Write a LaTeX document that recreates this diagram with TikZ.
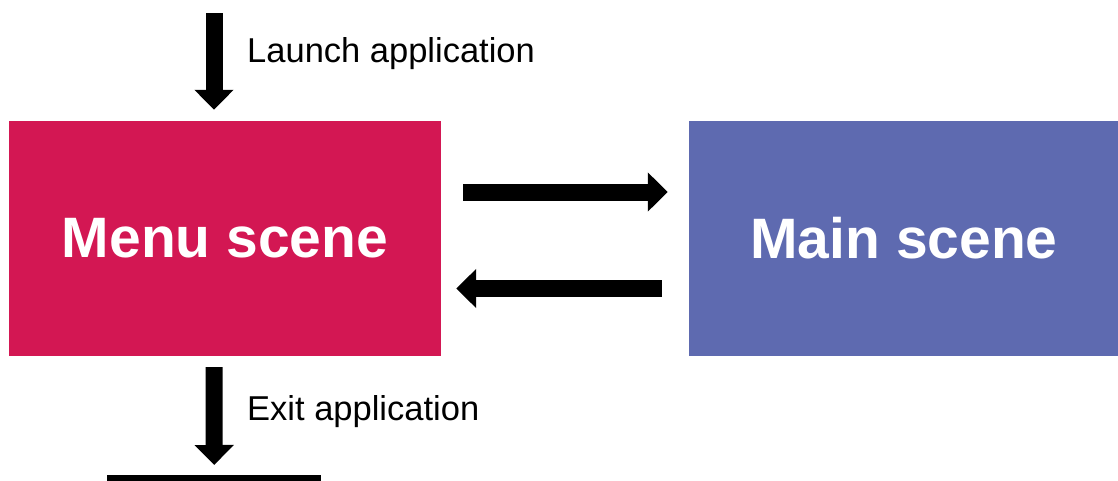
\documentclass[tikz,border=0pt]{standalone}
\usepackage{fontspec}
\setmainfont{Liberation Sans}
\usetikzlibrary{arrows.meta,calc}
\definecolor{menuc}{RGB}{211,23,83}
\definecolor{mainc}{RGB}{94,106,176}
\begin{document}
\begin{tikzpicture}[x=1pt,y=-1pt,
  scenebox/.style={rectangle, inner sep=0pt, text=white, font=\fontsize{57}{60}\selectfont\bfseries, minimum height=235pt},
  flow/.style={line width=17pt, -{Triangle[length=20pt,width=38pt]}},
  lbl/.style={anchor=base west, inner sep=0pt, font=\fontsize{34.5}{40}\selectfont}]
\useasboundingbox (0,0) rectangle (1118,480);
\node[scenebox, fill=menuc, minimum width=432pt] (menu) at (225,238.5) {Menu scene};
\node[scenebox, fill=mainc, minimum width=430pt] (main) at (904,238.5) {Main scene};
\coordinate (launchstart) at (214,13);
\node[fill=black, minimum width=214pt, minimum height=10pt, inner sep=0pt, anchor=north west] (ground) at (107,475) {};
\draw[flow] (launchstart) -- ($(menu.north)+(-11,-11)$);
\draw[flow] ($(menu.east)+(22,-46.5)$) -- ($(main.west)+(-21,-46.5)$);
\draw[flow] ($(main.west)+(-27,50)$) -- ($(menu.east)+(15,50)$);
\draw[flow] ($(menu.south)+(-11,11)$) -- ($(ground.north)+(0,-10)$);
\node[lbl] (launch) at (247,62) {Launch application};
\node[lbl] (exit) at (247,420) {Exit application};
\end{tikzpicture}
\end{document}
